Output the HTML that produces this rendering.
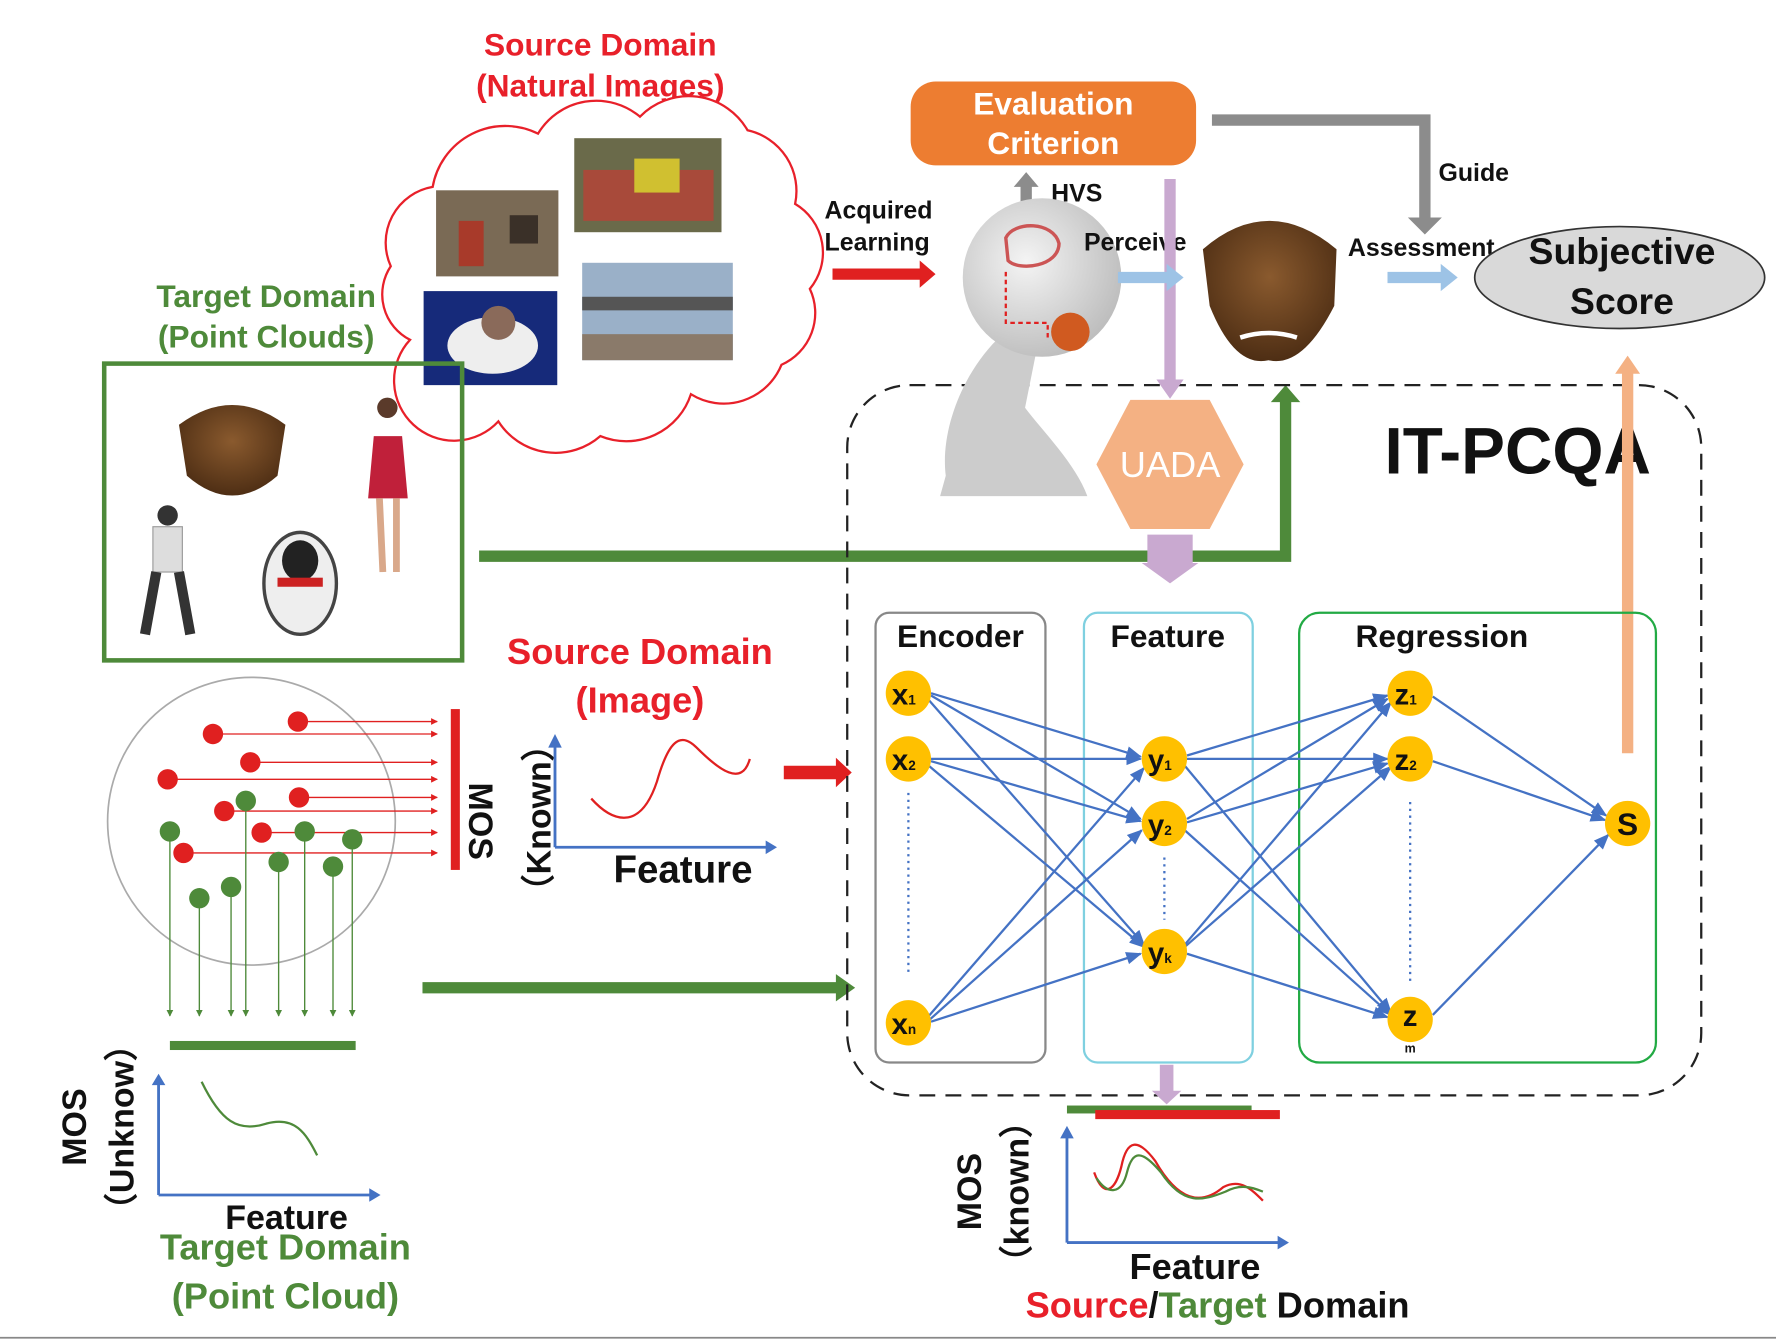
<!DOCTYPE html>
<html><head><meta charset="utf-8"><style>
html,body{margin:0;padding:0;background:#fff;}
svg{display:block;}
text{font-family:"Liberation Sans",Arial,sans-serif;font-weight:bold;}
</style></head><body>
<svg width="1776" height="1340" viewBox="0 0 1568 1183" preserveAspectRatio="none" xmlns="http://www.w3.org/2000/svg">
<defs>
<marker id="ab" viewBox="0 0 10 10" refX="9" refY="5" markerWidth="7" markerHeight="7" orient="auto"><path d="M0,1 L10,5 L0,9 z" fill="#4472c4"/></marker>
<marker id="ar" viewBox="0 0 10 10" refX="9" refY="5" markerWidth="5" markerHeight="5" orient="auto"><path d="M0,0 L10,5 L0,10 z" fill="#e02020"/></marker>
<marker id="ag" viewBox="0 0 10 10" refX="9" refY="5" markerWidth="5" markerHeight="5" orient="auto"><path d="M0,0 L10,5 L0,10 z" fill="#4e8a3a"/></marker>
<radialGradient id="hd" cx="0.4" cy="0.4" r="0.7"><stop offset="0" stop-color="#f4f4f4"/><stop offset="1" stop-color="#b8b8b8"/></radialGradient>
<radialGradient id="mk" cx="0.5" cy="0.4" r="0.6"><stop offset="0" stop-color="#8a5a2e"/><stop offset="1" stop-color="#4e2e14"/></radialGradient>
</defs>
<rect width="1568" height="1183" fill="#fff"/>

<text x="530" y="49" fill="#e8202a" font-size="28" text-anchor="middle">Source Domain</text>
<text x="530" y="85" fill="#e8202a" font-size="28" text-anchor="middle">(Natural Images)</text>
<path d="M362,300 A45,45 0 0 1 345,235 A50,50 0 0 1 382,165 A65,65 0 0 1 475,118 A60,60 0 0 1 565,103 A60,60 0 0 1 660,115 A55,55 0 0 1 702,180 A50,50 0 0 1 715,255 A50,50 0 0 1 690,322 A55,55 0 0 1 610,348 A60,60 0 0 1 530,385 A60,60 0 0 1 440,372 A50,50 0 0 1 362,300 z" fill="#fff" stroke="#e8202a" stroke-width="2"/>
<rect x="385" y="168" width="108" height="76" fill="#7a6a55"/><rect x="405" y="195" width="22" height="40" fill="#a83a2a"/><rect x="450" y="190" width="25" height="25" fill="#3a3028"/>
<rect x="507" y="122" width="130" height="83" fill="#6a6a4a"/><rect x="515" y="150" width="115" height="45" fill="#a84a3a"/><rect x="560" y="140" width="40" height="30" fill="#d0c030"/>
<rect x="374" y="257" width="118" height="83" fill="#162a7a"/><ellipse cx="435" cy="305" rx="40" ry="25" fill="#eee"/><circle cx="440" cy="285" r="15" fill="#8a6a5a"/>
<rect x="514" y="232" width="133" height="86" fill="#9ab0c8"/><rect x="514" y="262" width="133" height="12" fill="#555"/><rect x="514" y="295" width="133" height="23" fill="#8a7a6a"/>

<text x="235" y="271" fill="#4e8a3a" font-size="28" text-anchor="middle">Target Domain</text>
<text x="235" y="307" fill="#4e8a3a" font-size="28" text-anchor="middle">(Point Clouds)</text>
<rect x="92" y="321" width="316" height="262" fill="none" stroke="#4e8a3a" stroke-width="4"/>
<path d="M158,375 Q205,340 252,375 L245,420 Q205,455 165,420 z" fill="url(#mk)"/>
<circle cx="148" cy="455" r="9" fill="#333"/><rect x="135" y="465" width="26" height="40" fill="#ddd" stroke="#999"/><path d="M138,505 L128,560 M158,505 L168,560" stroke="#333" stroke-width="9"/>
<ellipse cx="265" cy="515" rx="32" ry="45" fill="#eee" stroke="#444" stroke-width="3"/><ellipse cx="265" cy="495" rx="16" ry="18" fill="#222"/><rect x="245" y="510" width="40" height="8" fill="#c22"/>
<circle cx="342" cy="360" r="9" fill="#5a3a2a"/><path d="M330,385 L355,385 L360,440 L325,440 z" fill="#c0203a"/><path d="M335,440 L338,505 M350,440 L350,505" stroke="#d9a88a" stroke-width="6"/>

<circle cx="222" cy="725" r="127" fill="none" stroke="#aaa" stroke-width="1.5"/>
<g stroke="#e02020" stroke-width="1.2" marker-end="url(#ar)">
<line x1="263" y1="637" x2="386" y2="637"/><line x1="188" y1="648" x2="386" y2="648"/><line x1="221" y1="673" x2="386" y2="673"/>
<line x1="148" y1="688" x2="386" y2="688"/><line x1="264" y1="704" x2="386" y2="704"/><line x1="198" y1="716" x2="386" y2="716"/>
<line x1="231" y1="735" x2="386" y2="735"/><line x1="162" y1="753" x2="386" y2="753"/>
</g>
<g fill="#e02020"><circle cx="263" cy="637" r="9"/><circle cx="188" cy="648" r="9"/><circle cx="221" cy="673" r="9"/><circle cx="148" cy="688" r="9"/><circle cx="264" cy="704" r="9"/><circle cx="198" cy="716" r="9"/><circle cx="231" cy="735" r="9"/><circle cx="162" cy="753" r="9"/></g>
<g stroke="#4e8a3a" stroke-width="1.2" marker-end="url(#ag)">
<line x1="150" y1="734" x2="150" y2="897"/><line x1="176" y1="793" x2="176" y2="897"/><line x1="204" y1="783" x2="204" y2="897"/><line x1="217" y1="707" x2="217" y2="897"/>
<line x1="246" y1="761" x2="246" y2="897"/><line x1="269" y1="734" x2="269" y2="897"/><line x1="294" y1="765" x2="294" y2="897"/><line x1="311" y1="741" x2="311" y2="897"/>
</g>
<g fill="#4e8a3a"><circle cx="150" cy="734" r="9"/><circle cx="176" cy="793" r="9"/><circle cx="204" cy="783" r="9"/><circle cx="217" cy="707" r="9"/><circle cx="246" cy="761" r="9"/><circle cx="269" cy="734" r="9"/><circle cx="294" cy="765" r="9"/><circle cx="311" cy="741" r="9"/></g>
<rect x="398" y="626" width="8" height="142" fill="#e02020"/>
<rect x="150" y="919" width="164" height="8" fill="#4e8a3a"/>

<path d="M140,1055 L140,952 M140,1055 L332,1055" stroke="#4472c4" stroke-width="2.5" fill="none"/>
<path d="M134,958 L140,948 L146,958 z M326,1049 L336,1055 L326,1061 z" fill="#4472c4"/>
<path d="M178,955 C195,990 210,1000 235,992 C260,985 270,1000 280,1020" stroke="#4e8a3a" stroke-width="2" fill="none"/>
<text transform="translate(76,995) rotate(-90)" font-size="30" text-anchor="middle" fill="#111">MOS</text>
<text transform="translate(118,995) rotate(-90)" font-size="30" text-anchor="middle" fill="#111">（Unknow）</text>
<text x="253" y="1085" font-size="30" text-anchor="middle" fill="#111">Feature</text>
<text x="252" y="1112" font-size="32" text-anchor="middle" fill="#4e8a3a">Target Domain</text>
<text x="252" y="1155" font-size="32" text-anchor="middle" fill="#4e8a3a">(Point Cloud)</text>

<text x="565" y="586" font-size="32" text-anchor="middle" fill="#e8202a">Source Domain</text>
<text x="565" y="629" font-size="32" text-anchor="middle" fill="#e8202a">(Image)</text>
<text transform="translate(414,725) rotate(90)" font-size="30" text-anchor="middle" fill="#111">MOS</text>
<text transform="translate(486,722) rotate(-90)" font-size="30" text-anchor="middle" fill="#111">（Known）</text>
<path d="M490,748 L490,655 M490,748 L680,748" stroke="#4472c4" stroke-width="2.5" fill="none"/>
<path d="M484,660 L490,648 L496,660 z M676,742 L686,748 L676,754 z" fill="#4472c4"/>
<path d="M522,705 C540,725 565,735 580,690 C590,655 600,645 615,660 C635,680 655,695 662,670" stroke="#e02020" stroke-width="2" fill="none"/>
<text x="603" y="779" font-size="34" text-anchor="middle" fill="#111">Feature</text>
<path d="M692,676 L738,676 L738,669 L752,682 L738,695 L738,688 L692,688 z" fill="#e02020"/>

<path d="M423,486 L1130,486 L1130,355 L1122,355 L1135,340 L1148,355 L1140,355 L1140,496 L423,496 z" fill="#4e8a3a"/>
<path d="M373,867 L738,867 L738,860 L755,872 L738,884 L738,877 L373,877 z" fill="#4e8a3a"/>

<rect x="748" y="340" width="754" height="627" rx="55" fill="none" stroke="#222" stroke-width="2" stroke-dasharray="14,9"/>
<text x="1340" y="418" font-size="58" text-anchor="middle" fill="#111">IT-PCQA</text>

<rect x="804" y="72" width="252" height="74" rx="22" fill="#ed7d31"/>
<text x="930" y="101" font-size="28" text-anchor="middle" fill="#fff">Evaluation</text>
<text x="930" y="136" font-size="28" text-anchor="middle" fill="#fff">Criterion</text>
<path d="M1070,101 L1263,101 L1263,192 L1273,192 L1258,207 L1243,192 L1253,192 L1253,111 L1070,111 z" fill="#8c8c8c"/>
<text x="1270" y="160" font-size="22" fill="#111">Guide</text>
<path d="M901,188 L901,165 L895,165 L906,152 L917,165 L911,165 L911,188 z" fill="#8c8c8c"/>
<text x="928" y="178" font-size="22" fill="#111">HVS</text>
<text x="728" y="193" font-size="22" fill="#111">Acquired</text>
<text x="728" y="221" font-size="22" fill="#111">Learning</text>
<path d="M735,237 L812,237 L812,230 L826,242 L812,254 L812,247 L735,247 z" fill="#e02020"/>
<path d="M880,300 C850,330 830,380 835,420 L830,438 L960,438 C950,410 920,380 905,360 L915,310 z" fill="#ccc"/>
<circle cx="920" cy="245" r="70" fill="url(#hd)"/>
<path d="M888,210 C895,195 930,195 935,215 C935,235 900,240 890,230 z" fill="none" stroke="#c55" stroke-width="3"/>
<circle cx="945" cy="293" r="17" fill="#d05a20"/>
<path d="M888,240 L888,285 L925,285 L925,300" stroke="#e02020" stroke-width="2" stroke-dasharray="4,3" fill="none"/>
<text x="957" y="221" font-size="22" fill="#111">Perceive</text>
<path d="M1028,158 L1038,158 L1038,335 L1045,335 L1033,352 L1021,335 L1028,335 z" fill="#c9a9d0"/>
<path d="M987,240 L1030,240 L1030,233 L1045,245 L1030,257 L1030,250 L987,250 z" fill="#9dc3e6"/>
<path d="M1062,220 Q1120,170 1180,220 L1178,270 Q1150,325 1120,318 Q1090,325 1068,270 z" fill="url(#mk)"/>
<path d="M1095,298 Q1120,290 1145,298" stroke="#fff" stroke-width="4" fill="none"/>
<text x="1190" y="226" font-size="22" fill="#111">Assessment</text>
<path d="M1225,240 L1272,240 L1272,233 L1287,245 L1272,257 L1272,250 L1225,250 z" fill="#9dc3e6"/>
<ellipse cx="1430" cy="245" rx="128" ry="45" fill="#d9d9d9" stroke="#333" stroke-width="1.5"/>
<text x="1432" y="233" font-size="33" text-anchor="middle" fill="#111">Subjective</text>
<text x="1432" y="277" font-size="33" text-anchor="middle" fill="#111">Score</text>
<path d="M1432,665 L1432,330 L1426,330 L1437,314 L1448,330 L1442,330 L1442,665 z" fill="#f4b183"/>

<polygon points="998,353 1068,353 1098,410 1068,467 998,467 968,410" fill="#f4b183"/>
<text x="1033" y="421" font-size="32" style="font-weight:normal" text-anchor="middle" fill="#fff">UADA</text>
<path d="M1013,472 L1053,472 L1053,497 L1058,497 L1033,515 L1008,497 L1013,497 z" fill="#c9a9d0"/>

<rect x="773" y="541" width="150" height="397" rx="12" fill="none" stroke="#888" stroke-width="2"/>
<rect x="957" y="541" width="149" height="397" rx="12" fill="none" stroke="#7fd0e0" stroke-width="2"/>
<rect x="1147" y="541" width="315" height="397" rx="18" fill="none" stroke="#22aa44" stroke-width="2"/>
<text x="848" y="571" font-size="28" text-anchor="middle" fill="#111">Encoder</text>
<text x="1031" y="571" font-size="28" text-anchor="middle" fill="#111">Feature</text>
<text x="1273" y="571" font-size="28" text-anchor="middle" fill="#111">Regression</text>

<g stroke="#4472c4" stroke-width="2" marker-end="url(#ab)">
<line x1="822" y1="612" x2="1007" y2="668"/><line x1="822" y1="614" x2="1007" y2="723"/><line x1="820" y1="618" x2="1010" y2="834"/>
<line x1="822" y1="670" x2="1007" y2="670"/><line x1="822" y1="672" x2="1007" y2="725"/><line x1="820" y1="676" x2="1010" y2="836"/>
<line x1="820" y1="897" x2="1010" y2="678"/><line x1="821" y1="900" x2="1008" y2="733"/><line x1="822" y1="902" x2="1007" y2="842"/>
<line x1="1048" y1="667" x2="1225" y2="614"/><line x1="1048" y1="670" x2="1225" y2="670"/><line x1="1046" y1="676" x2="1228" y2="894"/>
<line x1="1048" y1="723" x2="1225" y2="617"/><line x1="1048" y1="726" x2="1225" y2="674"/><line x1="1046" y1="733" x2="1228" y2="896"/>
<line x1="1046" y1="834" x2="1228" y2="620"/><line x1="1046" y1="836" x2="1228" y2="677"/><line x1="1048" y1="842" x2="1225" y2="898"/>
<line x1="1265" y1="615" x2="1418" y2="720"/><line x1="1265" y1="672" x2="1417" y2="724"/><line x1="1265" y1="896" x2="1420" y2="737"/>
</g>
<g stroke="#4472c4" stroke-width="2" stroke-dasharray="2,4">
<line x1="802" y1="700" x2="802" y2="862"/><line x1="1028" y1="757" x2="1028" y2="812"/><line x1="1245" y1="708" x2="1245" y2="870"/>
</g>
<g fill="#ffc000">
<circle cx="802" cy="612" r="20"/><circle cx="802" cy="670" r="20"/><circle cx="802" cy="903" r="20"/>
<circle cx="1028" cy="670" r="20"/><circle cx="1028" cy="727" r="20"/><circle cx="1028" cy="840" r="20"/>
<circle cx="1245" cy="612" r="20"/><circle cx="1245" cy="670" r="20"/><circle cx="1245" cy="900" r="20"/>
<circle cx="1437" cy="727" r="20"/>
</g>
<g font-size="26" fill="#111" text-anchor="middle">
<text x="798" y="622">x<tspan font-size="12">1</tspan></text><text x="798" y="680">x<tspan font-size="12">2</tspan></text><text x="798" y="913">x<tspan font-size="12">n</tspan></text>
<text x="1024" y="680">y<tspan font-size="12">1</tspan></text><text x="1024" y="737">y<tspan font-size="12">2</tspan></text><text x="1024" y="850">y<tspan font-size="12">k</tspan></text>
<text x="1241" y="622">z<tspan font-size="12">1</tspan></text><text x="1241" y="680">z<tspan font-size="12">2</tspan></text><text x="1245" y="906">z</text>
<text x="1437" y="737" font-size="28">S</text>
</g>
<text x="1245" y="929" font-size="11" text-anchor="middle" fill="#111">m</text>

<path d="M1024,940 L1036,940 L1036,963 L1043,963 L1030,975 L1017,963 L1024,963 z" fill="#c9a9d0"/>
<rect x="942" y="976" width="163" height="7" fill="#4e8a3a"/>
<rect x="967" y="980" width="163" height="8" fill="#e02020"/>
<path d="M942,1097 L942,1000 M942,1097 L1132,1097" stroke="#4472c4" stroke-width="2.5" fill="none"/>
<path d="M936,1005 L942,994 L948,1005 z M1128,1091 L1138,1097 L1128,1103 z" fill="#4472c4"/>
<path d="M966,1035 C975,1060 985,1050 990,1030 C995,1005 1005,1005 1020,1025 C1040,1060 1060,1065 1080,1048 C1095,1040 1105,1050 1115,1060" stroke="#e02020" stroke-width="2" fill="none"/>
<path d="M968,1040 C978,1055 990,1055 995,1035 C1000,1015 1008,1015 1025,1035 C1045,1065 1062,1060 1082,1052 C1095,1045 1105,1048 1115,1052" stroke="#4e8a3a" stroke-width="2" fill="none"/>
<text transform="translate(866,1052) rotate(-90)" font-size="30" text-anchor="middle" fill="#111">MOS</text>
<text transform="translate(908,1052) rotate(-90)" font-size="30" text-anchor="middle" fill="#111">（known）</text>
<text x="1055" y="1129" font-size="32" text-anchor="middle" fill="#111">Feature</text>
<text x="1075" y="1163" font-size="32" text-anchor="middle" fill="#111"><tspan fill="#e8202a">Source</tspan>/<tspan fill="#4e8a3a">Target</tspan> Domain</text>
<line x1="0" y1="1181" x2="1568" y2="1181" stroke="#888" stroke-width="1.5"/>
</svg>
</body></html>
